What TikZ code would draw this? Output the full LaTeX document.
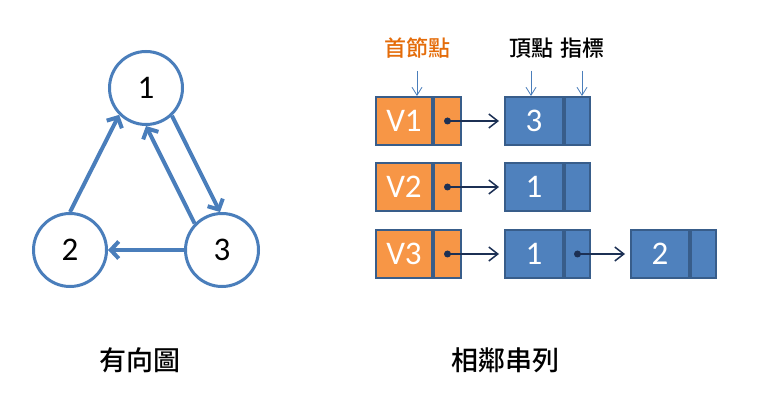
\documentclass[tikz,border=0pt]{standalone}
\usepackage{fontspec}
\setmainfont{Carlito}
\newfontfamily\cjk[BoldFont={Noto Sans CJK TC Medium}]{Noto Sans CJK TC}
\usepackage{tikz}
\usetikzlibrary{
    arrows.meta,
    positioning
}

\definecolor{edgeblue}{RGB}{74,126,187}
\definecolor{cellorange}{RGB}{247,150,70}
\definecolor{cellblue}{RGB}{79,129,189}
\definecolor{cellborder}{RGB}{56,93,138}
\definecolor{ptrnavy}{RGB}{28,48,84}
\definecolor{labelorange}{RGB}{228,108,10}

\begin{document}
\begin{tikzpicture}[x=1pt,y=-1pt,
    vertex/.style={circle, draw=edgeblue, line width=3pt, minimum size=73pt,
        inner sep=0pt, font=\fontsize{33}{33}\selectfont},
    edge/.style={-{Straight Barb[length=8pt,width=17pt]}, edgeblue, line width=4pt},
    cell/.style={draw=cellborder, line width=2pt, minimum height=48pt,
        inner sep=0pt, text=white, font=\fontsize{33}{33}\selectfont},
    headcell/.style={cell, fill=cellorange, minimum width=56pt},
    headptr/.style={cell, fill=cellorange, minimum width=27pt},
    listcell/.style={cell, fill=cellblue, minimum width=58pt},
    listptr/.style={cell, fill=cellblue, minimum width=25pt},
    ptrarrow/.style={-{Straight Barb[length=9pt,width=14pt]}, ptrnavy,
        line width=1.5pt, shorten >=5pt},
    tagarrow/.style={-{Straight Barb[length=8pt,width=10pt]}, edgeblue,
        line width=0.8pt, shorten <=9pt},
    tag/.style={font=\cjk\bfseries\fontsize{22}{22}\selectfont},
    caption/.style={font=\cjk\bfseries\fontsize{27}{27}\selectfont}
]
\useasboundingbox (0,0) rectangle (784,419);

% Directed graph
\node[vertex] (n1) at (146,88) {1};
\node[vertex] (n2) at (70,250) {2};
\node[vertex] (n3) at (222,250) {3};

\draw[edge] (n2.north) -- (n1.225);
\draw[edge] (n1.313) -- (n3.93);
\draw[edge] (n3.136) -- (n1.south);
\draw[edge] (n3.west) -- (n2.east);

\node[caption] (graphlbl) at (140,360) {有向圖};

% Adjacency list rows
\foreach \i/\v/\y in {1/3/121, 2/1/187, 3/1/254}{
  \node[headcell] (h\i) at (404,\y) {V\i};
  \node[headptr, right=0pt of h\i] (hp\i) {};
  \node[listcell] (a\i) at (534,\y) {\v};
  \node[listptr, right=0pt of a\i] (ap\i) {};
  \fill[ptrnavy] (hp\i.center) circle (3.5);
  \draw[ptrarrow] (hp\i.center) -- (a\i.west);
}

% Second node of row 3
\node[listcell] (b3) at (660,254) {2};
\node[listptr, right=0pt of b3] (bp3) {};
\fill[ptrnavy] (ap3.center) circle (3.5);
\draw[ptrarrow] (ap3.center) -- (b3.west);

% Labels above the first row
\node[tag, text=labelorange] (headlbl) at (417,48) {首節點};
\node[tag] (vertlbl) at (531,48) {頂點};
\node[tag] (ptrlbl) at (582,48) {指標};

\draw[tagarrow] (headlbl.south) -- (headlbl.south |- h1.north);
\draw[tagarrow] (vertlbl.south) -- (vertlbl.south |- a1.north);
\draw[tagarrow] (ptrlbl.south) -- (ptrlbl.south |- ap1.north);

\node[caption] (listlbl) at (505,360) {相鄰串列};

\end{tikzpicture}
\end{document}
